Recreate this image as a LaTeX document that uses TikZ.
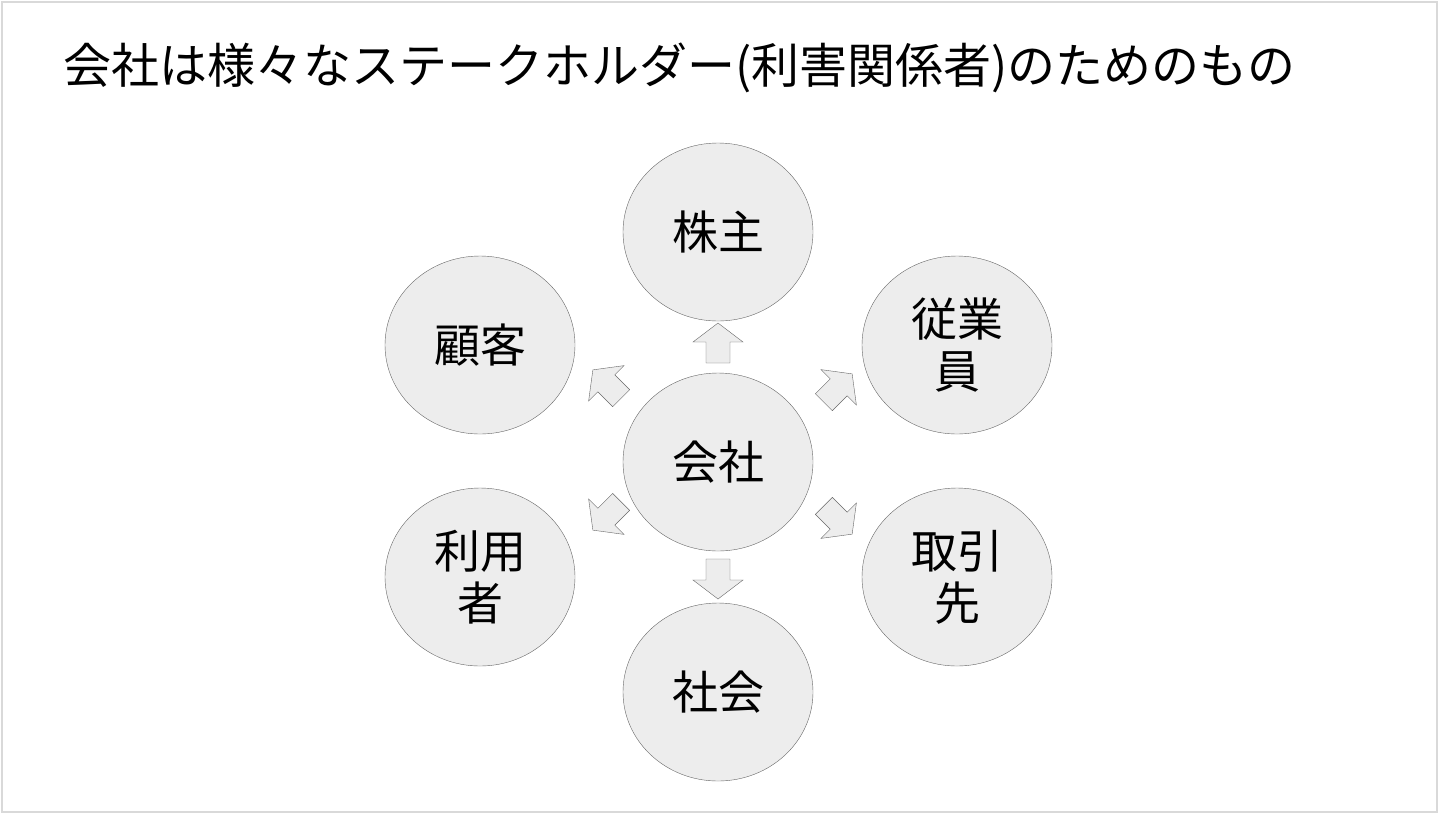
\documentclass[tikz,border=0pt]{standalone}
\usepackage{fontspec}
\setmainfont{Noto Sans CJK JP}
\usetikzlibrary{shapes.geometric}

\begin{document}
\begin{tikzpicture}[x=1pt, y=-1pt,
    party/.style={ellipse, draw=black!60, fill=black!7, minimum width=190pt, minimum height=178pt, inner sep=0pt, font=\fontsize{46}{52}\selectfont, align=center},
    flow/.pic={\draw[black!60, fill=black!7, line join=miter] (-20,-12) -- (1,-12) -- (1,-25) -- (20,0) -- (1,25) -- (1,12) -- (-20,12) -- cycle;}]
    \useasboundingbox (0,0) rectangle (1440,815);
    \draw[black!15, line width=2pt] (2,2) rectangle (1437,812);
    \node[anchor=west, font=\fontsize{48}{54}\selectfont] (title) at (60,68) {会社は様々なステークホルダー(利害関係者)のためのもの};

    \node[party] (company)  at (718,462) {会社};
    \node[party] (holders)  at (718,232) {株主};
    \node[party] (society)  at (718,692) {社会};
    \node[party] (clients)  at (480,345) {顧客};
    \node[party] (staff)    at (957,345) {従業\\員};
    \node[party] (users)    at (480,577) {利用\\者};
    \node[party] (partners) at (957,577) {取引\\先};

    % arrows from the company outwards
    \pic[rotate=90]  at (718,343) {flow};
    \pic[rotate=-90] at (718,579) {flow};
    \pic[rotate=135] at (607,384) {flow};
    \pic[rotate=45]  at (838,388) {flow};
    \pic[rotate=225] at (607,516) {flow};
    \pic[rotate=-45] at (838,520) {flow};
\end{tikzpicture}
\end{document}
